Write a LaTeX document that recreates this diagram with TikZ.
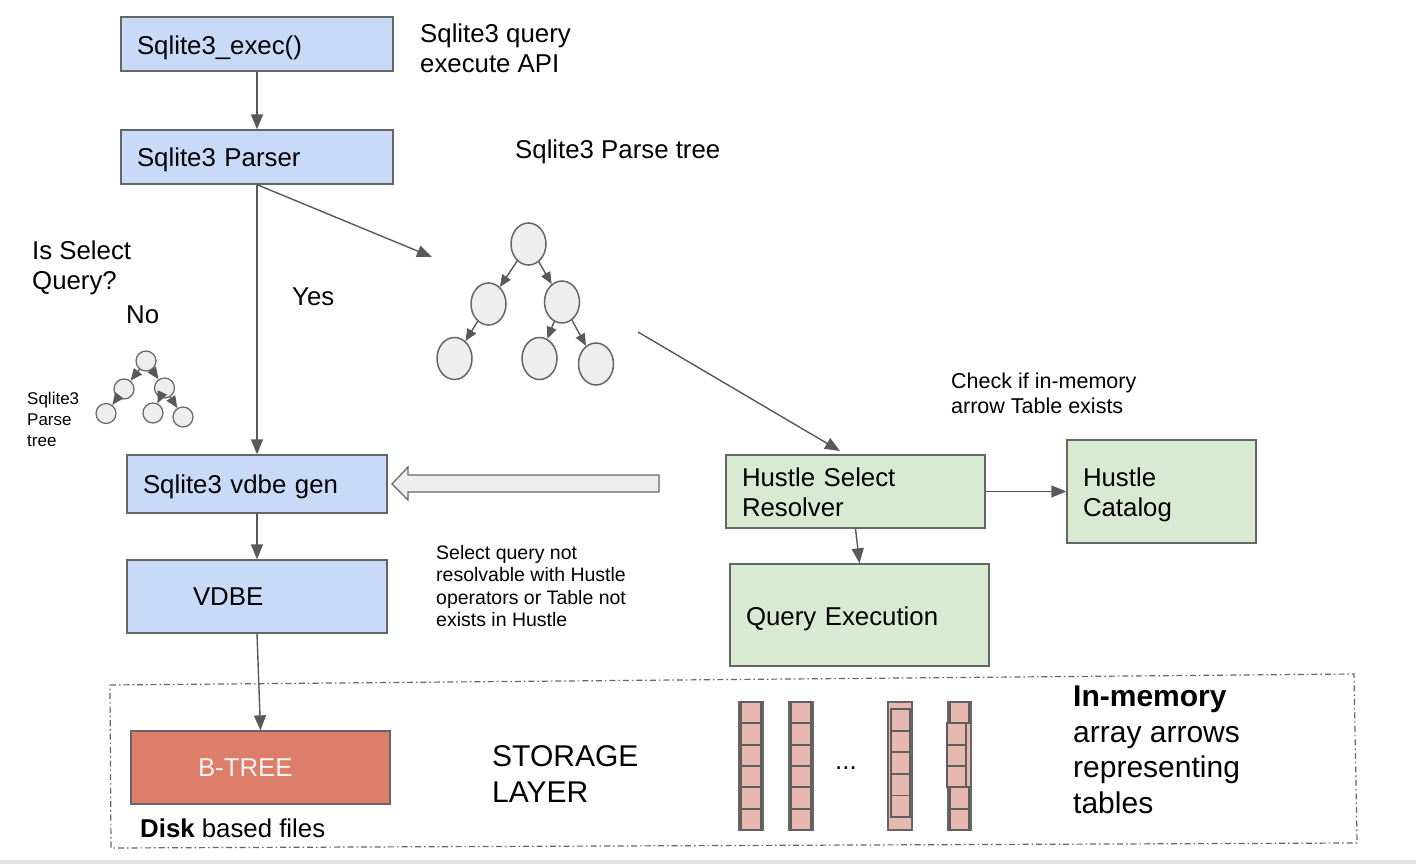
\documentclass[tikz,border=0pt]{standalone}
\usepackage{fontspec}
\setmainfont{Liberation Sans}
\usetikzlibrary{arrows.meta,shapes.geometric}
\definecolor{blueF}{HTML}{C9DAF8}
\definecolor{greenF}{HTML}{D9EAD3}
\definecolor{salmonF}{HTML}{DD7E6B}
\definecolor{cellF}{HTML}{E6B8AF}
\definecolor{nodeF}{HTML}{EEEEEE}
\definecolor{lineC}{HTML}{595959}
\definecolor{borderC}{HTML}{666666}
\definecolor{cellB}{HTML}{5E5E5E}
\definecolor{stripC}{HTML}{E3E3E3}
\definecolor{btxt}{HTML}{F3F3F3}
\newcommand\fmain{\fontsize{25.8pt}{30pt}\selectfont}
\newcommand\fbig{\fontsize{30pt}{35.5pt}\selectfont}
\newcommand\fchk{\fontsize{21.5pt}{25pt}\selectfont}
\newcommand\fsel{\fontsize{19.5pt}{22.5pt}\selectfont}
\newcommand\fsml{\fontsize{17pt}{21pt}\selectfont}
\newcommand\dn[2][6pt]{\raisebox{0pt}[\dimexpr\height+#1\relax][\depth]{#2}}
\begin{document}
\begin{tikzpicture}[x=1pt,y=-1pt,
  boxbase/.style={draw=borderC, line width=1.3pt, rectangle, inner ysep=0pt, align=left, font=\fmain},
  bluebox/.style={boxbase, fill=blueF},
  greenbox/.style={boxbase, fill=greenF},
  arr/.style={draw=lineC, line width=1.4pt, -{Triangle[length=15pt,width=12pt]}},
  tarr/.style={draw=lineC, line width=1.4pt, -{Triangle[length=12pt,width=10pt]}},
  tnode/.style={ellipse, draw=borderC, line width=1.5pt, fill=nodeF, inner sep=0pt, minimum width=35pt, minimum height=42pt},
  stnode/.style={circle, draw=borderC, line width=1.2pt, fill=nodeF, inner sep=0pt, minimum size=20pt},
  lbl/.style={anchor=west, align=left, inner sep=0pt, font=\fmain},
  cell/.style={draw=cellB, line width=1.8pt, fill=cellF},
  colrect/.style={draw=borderC, line width=2.4pt, fill=cellF}
]
\useasboundingbox (0,0) rectangle (1416,864);
\fill[white] (0,0) rectangle (1416,864);
\fill[stripC] (0,860) rectangle (1416,864);

% boxes
\node[bluebox, minimum width=272pt, minimum height=54pt, text width=240pt, inner xsep=16pt] (exec) at (257,44) {\dn[8pt]{Sqlite3\_exec()}};
\node[bluebox, minimum width=272pt, minimum height=54pt, text width=240pt, inner xsep=16pt] (parser) at (257,157) {\dn{Sqlite3 Parser}};
\node[bluebox, minimum width=260pt, minimum height=58pt, text width=228pt, inner xsep=16pt] (vgen) at (257,484) {\dn{Sqlite3 vdbe gen}};
\node[bluebox, minimum width=260pt, minimum height=73pt, text width=128pt, inner xsep=66pt] (vdbe) at (257,596.5) {VDBE};
\node[boxbase, fill=salmonF, text=btxt, minimum width=259pt, minimum height=73pt, text width=125pt, inner xsep=67pt] (btree) at (260.5,767.5) {B-TREE};
\node[greenbox, minimum width=259pt, minimum height=73pt, text width=227pt, inner xsep=16pt] (resolver) at (855.5,491.5) {\dn[8pt]{\begin{tabular}{@{}l@{}}Hustle Select\\Resolver\end{tabular}}};
\node[greenbox, minimum width=189pt, minimum height=103pt, text width=157pt, inner xsep=16pt] (catalog) at (1161.5,491.5) {\dn[8pt]{\begin{tabular}{@{}l@{}}Hustle\\Catalog\end{tabular}}};
\node[greenbox, minimum width=259pt, minimum height=102pt, text width=227pt, inner xsep=16pt] (qe) at (859.5,615) {\dn[8pt]{Query Execution}};

% labels
\node[lbl] (lexec) at (420,48) {Sqlite3 query\\execute API};
\node[lbl] (ltree) at (515,152) {Sqlite3 Parse tree};
\node[lbl] (lsel) at (32,268) {Is Select\\Query?};
\node[lbl] (lno) at (126,315) {No};
\node[lbl] (lyes) at (292,297) {Yes};
\node[lbl, font=\fsml] (lsmall) at (27,419) {Sqlite3\\Parse\\tree};
\node[lbl, font=\fchk] (lchk) at (951,393) {Check if in-memory\\arrow Table exists};
\node[lbl, font=\fsel] (lnot) at (436,586) {Select query not\\resolvable with Hustle\\operators or Table not\\exists in Hustle};
\node[lbl, font=\fbig] (lstor) at (492,774) {STORAGE\\LAYER};
\node[lbl, font=\fbig] (lmem) at (1073,750) {\textbf{In-memory}\\array arrows\\representing\\tables};
\node[lbl] (ldisk) at (140,828) {\textbf{Disk} based files};
\node[lbl] (ldots) at (835,768) {...};

% storage layer boundary
\draw[borderC, line width=1.2pt, dash pattern=on 6pt off 3pt on 1.5pt off 3pt]
  (110,685) -- (1354,674) -- (1357,843) -- (111,848) -- cycle;

% connectors
\draw[arr] (exec.south) -- (parser.north);
\draw[arr] (parser.south) -- (vgen.north);
\coordinate (ptip) at (432,257);
\draw[arr] (parser.south) -- (ptip);
\coordinate (tstart) at (638,332);
\coordinate (rtip) at (840,451);
\draw[arr] (tstart) -- (rtip);
\draw[arr] (vgen.south) -- (vdbe.north);
\draw[arr] (vdbe.south) -- (btree.north);
\draw[arr] (resolver.south) -- (qe.north);
\draw[arr] (resolver.east) -- (catalog.west);

% block arrow
\draw[borderC, line width=1.2pt, fill=nodeF]
  (659,475) -- (408,475) -- (408,467) -- (392,484) -- (408,500) -- (408,492) -- (659,492) -- cycle;

% big parse tree
\node[tnode] (r) at (528.5,244) {};
\node[tnode] (lm) at (488.5,304) {};
\node[tnode] (rm) at (562,302) {};
\node[tnode] (a) at (454.5,358.5) {};
\node[tnode] (b) at (539.5,358.5) {};
\node[tnode] (c) at (596,364) {};
\draw[tarr] (r) -- (lm);
\draw[tarr] (r) -- (rm);
\draw[tarr] (lm) -- (a);
\draw[tarr] (rm) -- (b);
\draw[tarr] (rm) -- (c);

% small parse tree
\node[stnode] (sr) at (146,361) {};
\node[stnode] (slm) at (124,389) {};
\node[stnode] (srm) at (164.5,388) {};
\node[stnode] (sa) at (106,413.5) {};
\node[stnode] (sb) at (153,413) {};
\node[stnode] (sc) at (183,417) {};
\draw[tarr] (sr) -- (slm);
\draw[tarr] (sr) -- (srm);
\draw[tarr] (slm) -- (sa);
\draw[tarr] (srm) -- (sb);
\draw[tarr] (srm) -- (sc);

% in-memory arrays
\foreach \x in {739,789} {
  \draw[colrect] (\x,702) rectangle ++(24,128);
  \foreach \i in {0,...,5} { \draw[cell] (\x+2,702+\i*21.33) rectangle ++(20,21.33); }
}
\draw[colrect] (888,702) rectangle (912,830);
\foreach \i in {0,...,4} { \draw[cell] (891,709+\i*21.6) rectangle ++(19,21.6); }
\draw[colrect] (948,702) rectangle (971,830);
\foreach \i in {0,4,5} { \draw[cell] (950,702+\i*21.33) rectangle ++(19,21.33); }
\foreach \i in {1,2,3} { \draw[cell] (947,702+\i*21.33) rectangle ++(19,21.33); }
\end{tikzpicture}
\end{document}
